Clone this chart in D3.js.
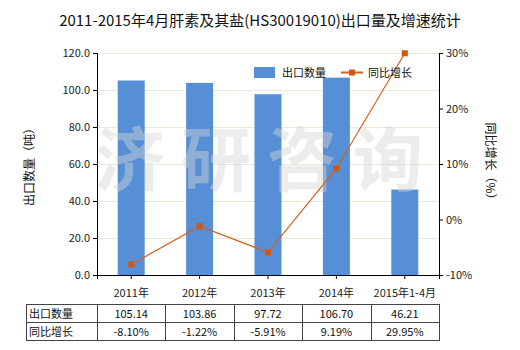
<!DOCTYPE html>
<html><head><meta charset="utf-8">
<script src="https://cdn.jsdelivr.net/npm/d3@7"></script>
<style>body{margin:0;background:#fff}svg{display:block}text{font-family:"Microsoft YaHei","Noto Sans CJK SC",sans-serif}</style>
</head><body><svg id="c" width="520" height="350"></svg>
<script>
const categories = ["2011年","2012年","2013年","2014年","2015年1-4月"];
const exportQty = [105.14,103.86,97.72,106.70,46.21];
const growth = [-8.10,-1.22,-5.91,9.19,29.95];
const leftTicks = [0,20,40,60,80,100,120];
const rightTicks = [-10,0,10,20,30];
const qtyLabels = ["105.14","103.86","97.72","106.70","46.21"];
const growthLabels = ["-8.10%","-1.22%","-5.91%","9.19%","29.95%"];
const watermarkChars = ["济","研","咨","询"];

const svg = d3.select("#c");
const L = 97, R = 439, T = 53, B = 275;
const x = d3.scaleBand().domain(categories).range([L,R]);
const yL = d3.scaleLinear().domain([0,120]).range([B,T]);
const yR = d3.scaleLinear().domain([-10,30]).range([B,T]);
const barColor = "#568fd6", lineColor = "#d9601a", font = 11;

svg.append("text").attr("x",260).attr("y",26).attr("text-anchor","middle")
  .attr("font-size",15).attr("fill","#111").text("2011-2015年4月肝素及其盐(HS30019010)出口量及增速统计");

// grid
svg.append("g").selectAll("line").data(leftTicks.slice(1)).join("line")
  .attr("x1",L).attr("x2",R).attr("y1",d=>yL(d)+0.5).attr("y2",d=>yL(d)+0.5)
  .attr("stroke","#e9e9d9").attr("stroke-width",1);

// bars
const bw = 27;
svg.append("g").selectAll("rect").data(exportQty).join("rect")
  .attr("x",(d,i)=>x(categories[i])+x.bandwidth()/2-bw/2).attr("width",bw)
  .attr("y",d=>yL(d)).attr("height",d=>B-yL(d)).attr("fill",barColor);

// watermark
svg.append("g").selectAll("text").data(watermarkChars).join("text")
  .attr("x",(d,i)=>130+i*86).attr("y",186).attr("text-anchor","middle")
  .attr("font-size",70).attr("font-weight","bold").attr("fill","#d4d4d4").attr("fill-opacity",0.45)
  .text(d=>d);

// line
const lineGen = d3.line().x((d,i)=>x(categories[i])+x.bandwidth()/2).y(d=>yR(d));
svg.append("path").datum(growth).attr("d",lineGen).attr("fill","none").attr("stroke",lineColor).attr("stroke-width",1.2);
svg.append("g").selectAll("rect").data(growth).join("rect")
  .attr("x",(d,i)=>x(categories[i])+x.bandwidth()/2-3).attr("y",d=>yR(d)-3)
  .attr("width",6).attr("height",6).attr("fill","#d2560e");

// axes
const axL = svg.append("g").attr("transform",`translate(${L},0)`)
  .call(d3.axisLeft(yL).tickValues(leftTicks).tickFormat(d3.format(".1f")).tickSizeOuter(0).tickSize(4));
const axR = svg.append("g").attr("transform",`translate(${R},0)`)
  .call(d3.axisRight(yR).tickValues(rightTicks).tickFormat(d=>d+"%").tickSizeOuter(0).tickSize(4));
const axB = svg.append("g").attr("transform",`translate(0,${B})`)
  .call(d3.axisBottom(x).tickSizeOuter(0).tickSize(4));
[axL,axR,axB].forEach(a=>{
  a.selectAll("path,line").attr("stroke","#000");
  a.selectAll("text").attr("font-size",font).attr("fill","#222")
   .style("font-family",'"Microsoft YaHei","Noto Sans CJK SC",sans-serif');
});
axB.selectAll("text").attr("dy","1.4em");

// axis titles
svg.append("text").attr("transform","translate(34,164) rotate(-90)").attr("text-anchor","middle")
  .attr("font-size",12).attr("fill","#111").text("出口数量（吨）");
svg.append("text").attr("transform","translate(486,164) rotate(90)").attr("text-anchor","middle")
  .attr("font-size",12).attr("fill","#111").text("同比增长（%）");

// legend
svg.append("rect").attr("x",254).attr("y",67).attr("width",21).attr("height",11).attr("fill",barColor);
svg.append("text").attr("x",282).attr("y",77).attr("font-size",11).attr("fill","#111").text("出口数量");
svg.append("line").attr("x1",341).attr("x2",363).attr("y1",72.5).attr("y2",72.5).attr("stroke",lineColor).attr("stroke-width",2);
svg.append("rect").attr("x",349).attr("y",69.5).attr("width",6).attr("height",6).attr("fill","#d2560e");
svg.append("text").attr("x",368).attr("y",77).attr("font-size",11).attr("fill","#111").text("同比增长");

// table
const tT = 304, rh = 18, tL = 26;
const tg = svg.append("g");
tg.append("rect").attr("x",tL+0.5).attr("y",tT+0.5).attr("width",R-tL).attr("height",rh*2)
  .attr("fill","none").attr("stroke","#444");
tg.append("line").attr("x1",tL).attr("x2",R).attr("y1",tT+rh+0.5).attr("y2",tT+rh+0.5).attr("stroke","#444");
tg.selectAll("line.v").data(categories).join("line").attr("class","v")
  .attr("x1",c=>Math.round(x(c))+0.5).attr("x2",c=>Math.round(x(c))+0.5)
  .attr("y1",tT).attr("y2",tT+rh*2).attr("stroke","#444");
const rows = [["出口数量",qtyLabels],["同比增长",growthLabels]];
rows.forEach((r,ri)=>{
  const yy = tT + rh*ri + 13.5;
  tg.append("text").attr("x",tL+3).attr("y",yy).attr("font-size",11).attr("fill","#111").text(r[0]);
  tg.selectAll(null).data(r[1]).join("text")
    .attr("x",(d,i)=>x(categories[i])+x.bandwidth()/2).attr("y",yy)
    .attr("text-anchor","middle").attr("font-size",11).attr("fill","#111").text(d=>d);
});
</script></body></html>
